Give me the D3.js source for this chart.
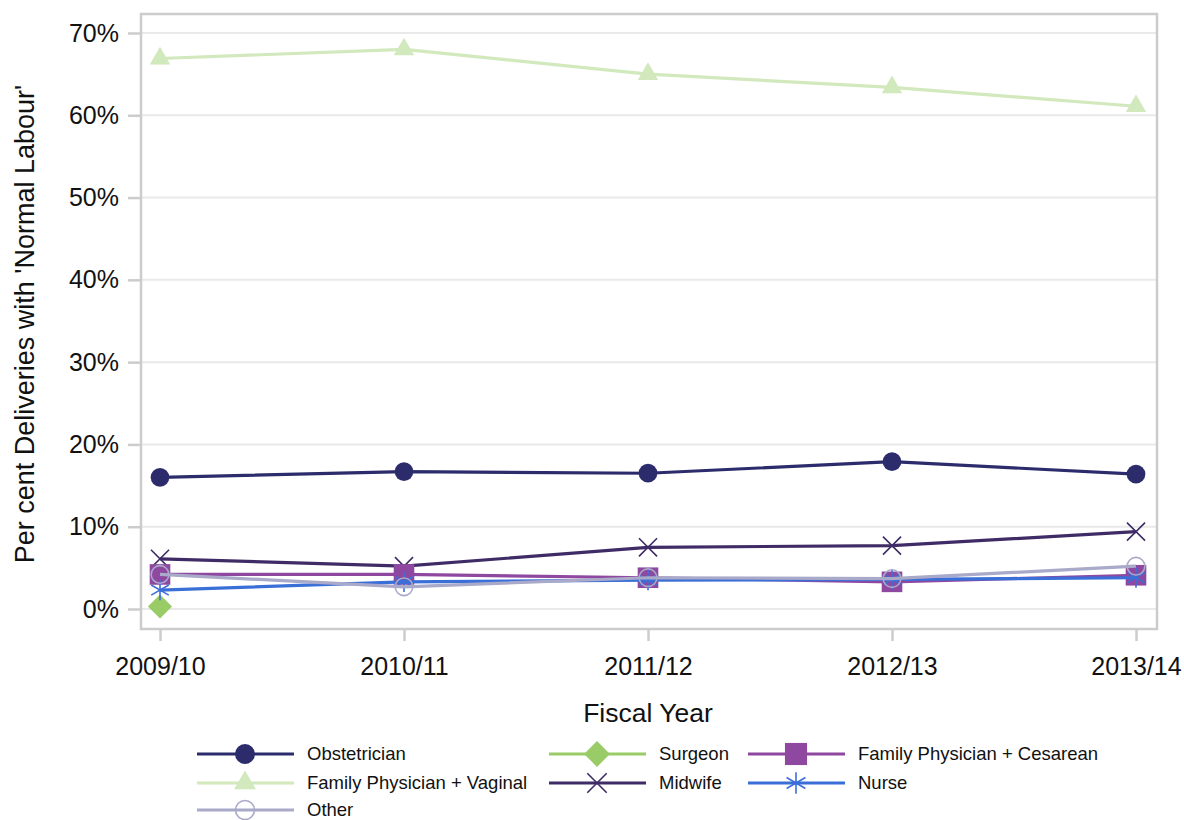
<!DOCTYPE html>
<html>
<head>
<meta charset="utf-8">
<script src="https://cdn.jsdelivr.net/npm/d3@7"></script>
<style>
  body { margin: 0; background: #fff; }
  svg { font-family: "Liberation Sans", Arial, sans-serif; }
</style>
</head>
<body>
<svg id="chart" width="1184" height="820"></svg>
<script>
// values (percent)
var years = ["2009/10", "2010/11", "2011/12", "2012/13", "2013/14"];
var yTicks = [0, 10, 20, 30, 40, 50, 60, 70];

var obstetrician = [16.0, 16.7, 16.5, 17.9, 16.4];
var surgeon = [0.3, null, null, null, null];
var fpCesarean = [4.2, 4.2, 3.8, 3.3, 4.1];
var fpVaginal = [66.9, 68.0, 65.0, 63.4, 61.1];
var midwife = [6.1, 5.2, 7.5, 7.7, 9.4];
var nurse = [2.3, 3.3, 3.5, 3.6, 3.8];
var other = [4.2, 2.7, 3.8, 3.7, 5.2];

var seriesNames = ["Obstetrician", "Surgeon", "Family Physician + Cesarean",
    "Family Physician + Vaginal", "Midwife", "Nurse", "Other"];
var seriesValues = [obstetrician, surgeon, fpCesarean, fpVaginal, midwife, nurse, other];
var seriesColors = ["#2c2c6c", "#99cc66", "#8e48a0", "#d2e8bd", "#3f2c66", "#3b6fd8", "#a9a9c9"];

var svg = d3.select("#chart");
var plot = { left: 141, top: 14, right: 1157, bottom: 629 };

var x = d3.scalePoint().domain(years).range([160, 1136]);
var y = d3.scaleLinear().domain([0, 70]).range([609, 33]);

// gridlines
svg.append("g").selectAll("line.grid")
    .data(yTicks)
    .enter().append("line")
    .attr("class", "grid")
    .attr("x1", plot.left).attr("x2", plot.right)
    .attr("y1", function(d) { return y(d); })
    .attr("y2", function(d) { return y(d); })
    .attr("stroke", "#e9e9e9")
    .attr("stroke-width", 2);

// frame
svg.append("rect")
    .attr("x", plot.left).attr("y", plot.top)
    .attr("width", plot.right - plot.left)
    .attr("height", plot.bottom - plot.top)
    .attr("fill", "none")
    .attr("stroke", "#cccccc")
    .attr("stroke-width", 2.5);

// y axis
var yAxis = d3.axisLeft(y).tickValues(yTicks)
    .tickFormat(function(d) { return d + "%"; })
    .tickSize(13).tickPadding(9);
var gy = svg.append("g").attr("transform", "translate(" + plot.left + ",0)").call(yAxis);
gy.select(".domain").remove();
gy.selectAll(".tick line").attr("stroke", "#cccccc").attr("stroke-width", 2.5);
gy.selectAll(".tick text").attr("fill", "#111").style("font-size", "25px")
    .style("font-family", "Liberation Sans, Arial, sans-serif");

// x axis
var xAxis = d3.axisBottom(x).tickSize(12).tickPadding(16);
var gx = svg.append("g").attr("transform", "translate(0," + plot.bottom + ")").call(xAxis);
gx.select(".domain").remove();
gx.selectAll(".tick line").attr("stroke", "#cccccc").attr("stroke-width", 2.5);
gx.selectAll(".tick text").attr("fill", "#111").style("font-size", "25px")
    .style("font-family", "Liberation Sans, Arial, sans-serif");

// axis titles
svg.append("text")
    .attr("x", 648).attr("y", 722)
    .attr("text-anchor", "middle")
    .style("font-size", "26.5px").attr("fill", "#111")
    .text("Fiscal Year");

svg.append("text")
    .attr("transform", "translate(34,324) rotate(-90)")
    .attr("text-anchor", "middle")
    .style("font-size", "27px").attr("fill", "#111")
    .text("Per cent Deliveries with 'Normal Labour'");

// markers
function drawMarker(g, i, cx, cy, scale) {
    var c = seriesColors[i];
    var s = scale || 1;
    var types = [d3.symbolCircle, d3.symbolSquare, d3.symbolSquare, d3.symbolTriangle,
        d3.symbolX, d3.symbolAsterisk, d3.symbolCircle];
    var sizes = [275, 290, 425, 180, 215, 290, 245];
    var p = g.append("path")
        .attr("transform", "translate(" + cx + "," + cy + ")" + (i === 1 ? " rotate(45)" : ""))
        .attr("d", d3.symbol().type(types[i]).size(sizes[i] * s)());
    if (i === 4 || i === 5 || i === 6) {
        p.attr("fill", "none").attr("stroke", c).attr("stroke-width", 1.6);
    } else {
        p.attr("fill", c);
    }
}

var line = d3.line()
    .defined(function(d) { return d != null; })
    .x(function(d, j) { return x(years[j]); })
    .y(function(d) { return y(d); });

var drawOrder = [0, 3, 1, 4, 2, 5, 6];
drawOrder.forEach(function(i) {
    var g = svg.append("g");
    g.append("path")
        .datum(seriesValues[i])
        .attr("d", line)
        .attr("fill", "none")
        .attr("stroke", seriesColors[i])
        .attr("stroke-width", 3.2);
    seriesValues[i].forEach(function(v, j) {
        if (v == null) return;
        drawMarker(g, i, x(years[j]), y(v));
    });
});

// legend, three columns
var legendCols = [197, 549, 748];
var legendRows = [754, 783, 810];
var legend = svg.append("g");
seriesNames.forEach(function(name, i) {
    var lx = legendCols[i % 3];
    var ly = legendRows[Math.floor(i / 3)];
    var g = legend.append("g");
    g.append("line")
        .attr("x1", lx).attr("x2", lx + 97)
        .attr("y1", ly).attr("y2", ly)
        .attr("stroke", seriesColors[i])
        .attr("stroke-width", 3.2);
    drawMarker(g, i, lx + 48, ly, 1.15);
    g.append("text")
        .attr("x", lx + 110).attr("y", ly + 6)
        .style("font-size", "18.5px").attr("fill", "#111")
        .text(name);
});
</script>
</body>
</html>
